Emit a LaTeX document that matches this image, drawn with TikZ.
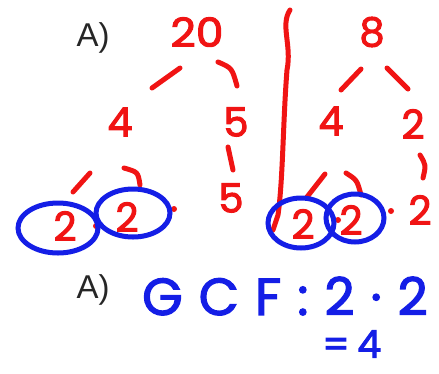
\documentclass[tikz,border=0pt]{standalone}
\usepackage{fontspec}
\setmainfont{Liberation Sans}
\newfontfamily\hand[FakeBold=2.5]{Poppins}
\newfontfamily\handwide[FakeBold=2.5,LetterSpace=31]{Poppins}
\newfontfamily\handmid[FakeBold=2.5,LetterSpace=20]{Poppins}
\definecolor{inkred}{RGB}{240,20,20}
\definecolor{inkblue}{RGB}{20,30,230}
\begin{document}
\begin{tikzpicture}[x=1pt,y=-1pt,
  lbl/.style={font=\fontsize{33}{33}\selectfont, text=black!85, inner sep=0pt},
  num/.style={font=\hand\fontsize{40}{40}\selectfont, text=inkred, inner sep=0pt},
  gcf/.style={font=\handwide\fontsize{52}{52}\selectfont, text=inkblue, inner sep=0pt},
  branch/.style={draw=inkred, line width=5pt, line cap=round},
  ring/.style={draw=inkblue, line width=5pt},
  dotr/.style={fill=inkred, circle, inner sep=0pt, minimum size=6pt}]
\useasboundingbox (0,0) rectangle (439,373);
% labels
\node[lbl] (a1) at (93,38) {A)};
\node[lbl] (a2) at (93,290) {A)};
% left tree
\node[num, xscale=1.1] (n20) at (197,32) {20};
\node[num] (n4) at (120,122) {4};
\node[num] (n5) at (236,122) {5};
\node[num] (n5b) at (231,198) {5};
\node[num] (l2a) at (65,226) {2};
\node[num] (l2b) at (127,217) {2};
\node[dotr] (d1) at (96,226) {};
\node[dotr] (d2) at (174,209) {};
\draw[branch] (152,88) -- (180,68);
\draw[branch] (218,62) .. controls (232,68) .. (237,86);
\draw[branch] (228,147) -- (233,170);
\draw[branch] (73,192) -- (90,173);
\draw[branch] (124,168) .. controls (138,172) .. (140,185);
\draw[ring] (58,228) ellipse [x radius=40, y radius=25];
\draw[ring] (133,213) ellipse [x radius=37, y radius=24];
% divider
\draw[branch] (290,10) .. controls (280,25) and (292,45) .. (287,70)
  .. controls (283,120) and (283,180) .. (278,215) -- (273,230);
% right tree
\node[num] (n8) at (372,32) {8};
\node[num] (r4) at (331,121) {4};
\node[num] (r2) at (413,124) {2};
\node[num] (r2c) at (420,210) {2};
\node[num] (r2a) at (303,224) {2};
\node[num] (r2b) at (351,220) {2};
\node[dotr] (d3) at (338,220) {};
\node[dotr] (d4) at (391,211) {};
\draw[branch] (341,90) -- (361,69);
\draw[branch] (387,68) -- (408,89);
\draw[branch] (420,155) .. controls (426,165) .. (423,178);
\draw[branch] (307,197) -- (325,174);
\draw[branch] (346,173) .. controls (357,180) .. (361,195);
\draw[ring] (301,223) ellipse [x radius=33, y radius=25];
\draw[ring] (355,218) ellipse [x radius=29, y radius=24];
% GCF
\node[gcf, anchor=west] (g) at (142,296) {GCF:2·2};
\node[gcf, anchor=west, font=\handmid\fontsize{38}{38}\selectfont] (eq) at (322,344) {=4};
\end{tikzpicture}
\end{document}
